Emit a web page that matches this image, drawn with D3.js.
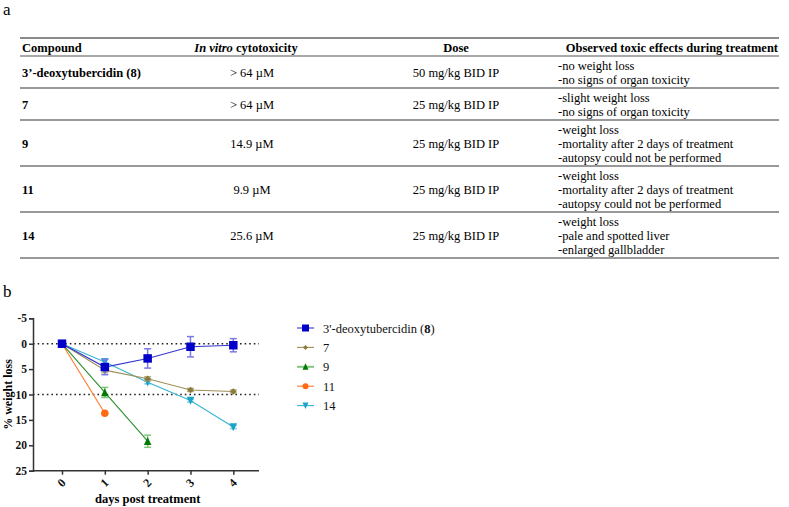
<!DOCTYPE html>
<html>
<head>
<meta charset="utf-8">
<script src="https://cdn.jsdelivr.net/npm/d3@7"></script>
<style>
  html, body { margin: 0; padding: 0; background: #fff; }
  svg { display: block; }
  text { font-family: "Liberation Serif", "Times New Roman", serif; }
</style>
</head>
<body>
<svg id="fig" width="789" height="507"></svg>
<script>
// ---------- Table data ----------
const tableHeaders = ["Compound", "In vitro cytotoxicity", "Dose", "Observed toxic effects during treatment"];
const compounds = ["3\u2019-deoxytubercidin (8)", "7", "9", "11", "14"];
const cytotoxicity = ["> 64 \u00b5M", "> 64 \u00b5M", "14.9 \u00b5M", "9.9 \u00b5M", "25.6 \u00b5M"];
const doses = ["50 mg/kg BID IP", "25 mg/kg BID IP", "25 mg/kg BID IP", "25 mg/kg BID IP", "25 mg/kg BID IP"];
const effects = [
  ["-no weight loss", "-no signs of organ toxicity"],
  ["-slight weight loss", "-no signs of organ toxicity"],
  ["-weight loss", "-mortality after 2 days of treatment", "-autopsy could not be performed"],
  ["-weight loss", "-mortality after 2 days of treatment", "-autopsy could not be performed"],
  ["-weight loss", "-pale and spotted liver", "-enlarged gallbladder"]
];

// ---------- Chart data ----------
const days = [0, 1, 2, 3, 4];
const yTicks = [-5, 0, 5, 10, 15, 20, 25];
const seriesNames = ["3'-deoxytubercidin (8)", "7", "9", "11", "14"];
const s8 = [0, 4.6, 2.9, 0.6, 0.3];
const e8 = [0, 1.5, 1.9, 2.0, 1.3];
const s7 = [0, 5.2, 6.9, 9.1, 9.4];
const e7 = [0, 0.5, 0.4, 0.3, 0.3];
const s9 = [0, 9.6, 19.2];
const e9 = [0, 1.0, 1.2];
const s11 = [0, 13.7];
const e11 = [0, 0];
const s14 = [0, 3.6, 7.6, 11.2, 16.4];
const e14 = [0, 0.6, 0.3, 0.3, 0.3];
const refLines = [0, 10];

const svg = d3.select("#fig");

// ---------- Panel labels ----------
svg.append("text").attr("x", 3).attr("y", 15).attr("font-size", 17).text("a");
svg.append("text").attr("x", 3).attr("y", 297).attr("font-size", 17).text("b");

// ---------- Table ----------
const tLeft = 20, tRight = 779;
const colX = { comp: 22, cyto: 252, dose: 456, eff: 558 };
const lineH = 14;
const headerTop = 38, headerBottom = 56;
const fs = 12.5;

const tg = svg.append("g");
tg.append("line").attr("x1", tLeft).attr("x2", tRight).attr("y1", headerTop).attr("y2", headerTop)
  .attr("stroke", "#8a8a8a").attr("stroke-width", 2);
tg.append("line").attr("x1", tLeft).attr("x2", tRight).attr("y1", headerBottom).attr("y2", headerBottom)
  .attr("stroke", "#555").attr("stroke-width", 1.2);

const hy = (headerTop + headerBottom) / 2 + 4.5;
tg.append("text").attr("x", colX.comp).attr("y", hy).attr("font-size", fs).attr("font-weight", "bold").text(tableHeaders[0]);
const ht = tg.append("text").attr("x", 246).attr("y", hy).attr("font-size", fs).attr("font-weight", "bold").attr("text-anchor", "middle");
ht.append("tspan").attr("font-style", "italic").text("In vitro");
ht.append("tspan").text(" cytotoxicity");
tg.append("text").attr("x", colX.dose).attr("y", hy).attr("font-size", fs).attr("font-weight", "bold").attr("text-anchor", "middle").text(tableHeaders[2]);
tg.append("text").attr("x", tRight - 1).attr("y", hy).attr("font-size", fs).attr("font-weight", "bold").attr("text-anchor", "end").text(tableHeaders[3]);

let yCursor = headerBottom;
compounds.forEach((c, i) => {
  const n = effects[i].length;
  const h = n * lineH + 4;
  const top = yCursor, bottom = yCursor + h;
  const mid = (top + bottom) / 2;
  tg.append("text").attr("x", colX.comp).attr("y", mid + 4.5).attr("font-size", fs).attr("font-weight", "bold").text(c);
  tg.append("text").attr("x", colX.cyto).attr("y", mid + 4.5).attr("font-size", fs).attr("text-anchor", "middle").text(cytotoxicity[i]);
  tg.append("text").attr("x", colX.dose).attr("y", mid + 4.5).attr("font-size", fs).attr("text-anchor", "middle").text(doses[i]);
  effects[i].forEach((e, j) => {
    const ly = mid + (j - (n - 1) / 2) * lineH + 4.5;
    tg.append("text").attr("x", colX.eff).attr("y", ly).attr("font-size", fs).text(e);
  });
  tg.append("line").attr("x1", tLeft).attr("x2", tRight).attr("y1", bottom).attr("y2", bottom)
    .attr("stroke", "#777").attr("stroke-width", 1.3);
  yCursor = bottom;
});

// ---------- Chart ----------
const x = d3.scaleLinear().domain([0, 4]).range([62, 233.3]);
const y = d3.scaleLinear().domain([-5, 25]).range([318.3, 470.7]);
const axisLeftX = 33, axisRightX = 259;

const cg = svg.append("g");

// reference dotted lines
cg.selectAll(".ref").data(refLines).join("line")
  .attr("x1", axisLeftX).attr("x2", axisRightX)
  .attr("y1", d => y(d)).attr("y2", d => y(d))
  .attr("stroke", "#222").attr("stroke-width", 1.6).attr("stroke-dasharray", "1.6,3");

// y axis
const yAxis = d3.axisLeft(y).tickValues(yTicks).tickSize(4).tickPadding(2).tickFormat(d => String(d));
const yg = cg.append("g").attr("transform", `translate(${axisLeftX},0)`).call(yAxis);
yg.select(".domain").attr("stroke", "#333").attr("stroke-width", 1.5);
yg.selectAll(".tick line").attr("stroke", "#333").attr("stroke-width", 1.5);
yg.selectAll(".tick text").attr("font-family", "Liberation Serif, serif").attr("font-size", 11.5).attr("font-weight", "bold").attr("fill", "#111");

// x axis
const xAxis = d3.axisBottom(x).tickValues(days).tickSize(4).tickFormat(d => String(d));
const xg = cg.append("g").attr("transform", `translate(0,${y(25)})`).call(xAxis);
xg.select(".domain").remove();
xg.append("line").attr("x1", axisLeftX).attr("x2", axisRightX).attr("y1", 0).attr("y2", 0)
  .attr("stroke", "#333").attr("stroke-width", 1.5);
xg.selectAll(".tick line").attr("stroke", "#333").attr("stroke-width", 1.5);
xg.selectAll(".tick text")
  .attr("font-family", "Liberation Serif, serif").attr("font-size", 12).attr("font-weight", "bold").attr("fill", "#111")
  .attr("text-anchor", "middle").attr("dy", null).attr("y", 0)
  .attr("transform", "translate(0,13) rotate(-45)")
  .attr("dominant-baseline", "middle");

// axis titles
cg.append("text").attr("x", x(2)).attr("y", 503).attr("text-anchor", "middle")
  .attr("font-size", 12.5).attr("font-weight", "bold").text("days post treatment");
cg.append("text").attr("transform", `translate(11.5,${y(10)}) rotate(-90)`).attr("text-anchor", "middle")
  .attr("font-size", 12).attr("font-weight", "bold").text("% weight loss");

// series
const series = [
  { name: seriesNames[4], vals: s14, errs: e14, color: "#1ba3c6", line: "#36b4d4", err: "#7fd0e3", shape: "triDown", size: 7.5 },
  { name: seriesNames[3], vals: s11, errs: e11, color: "#ff6a13", line: "#ff7a2e", err: "#ffa070", shape: "circle", size: 7.5 },
  { name: seriesNames[2], vals: s9, errs: e9, color: "#007a00", line: "#2c8f2c", err: "#80c880", shape: "triUp", size: 7.5 },
  { name: seriesNames[1], vals: s7, errs: e7, color: "#8a7a3c", line: "#9e8f55", err: "#b8ac80", shape: "diamond", size: 6.5 },
  { name: seriesNames[0], vals: s8, errs: e8, color: "#0000c8", line: "#3434d0", err: "#7a7ae6", shape: "square", size: 8.5 }
];

function markerPath(shape, s) {
  const h = s / 2;
  if (shape === "square") return `M${-h},${-h}H${h}V${h}H${-h}Z`;
  if (shape === "diamond") return `M0,${-h}L${h},0L0,${h}L${-h},0Z`;
  if (shape === "triUp") return `M0,${-h - 0.5}L${h},${h}L${-h},${h}Z`;
  if (shape === "triDown") return `M0,${h + 0.5}L${h},${-h}L${-h},${-h}Z`;
  return d3.symbol(d3.symbolCircle, Math.PI * h * h)();
}

const lineGen = d3.line().x((d, i) => x(days[i])).y(d => y(d));

series.forEach(s => {
  const g = cg.append("g");
  s.vals.forEach((v, i) => {
    const e = s.errs[i];
    if (!e) return;
    const xi = x(days[i]);
    g.append("line").attr("x1", xi).attr("x2", xi).attr("y1", y(v - e)).attr("y2", y(v + e))
      .attr("stroke", s.err).attr("stroke-width", 1.5);
    [v - e, v + e].forEach(b => {
      g.append("line").attr("x1", xi - 3.5).attr("x2", xi + 3.5).attr("y1", y(b)).attr("y2", y(b))
        .attr("stroke", s.err).attr("stroke-width", 1.5);
    });
  });
  g.append("path").attr("d", lineGen(s.vals)).attr("fill", "none").attr("stroke", s.line).attr("stroke-width", 1.1);
  g.selectAll("path.m").data(s.vals).join("path").attr("class", "m")
    .attr("transform", (d, i) => `translate(${x(days[i])},${y(d)})`)
    .attr("d", markerPath(s.shape, s.size))
    .attr("fill", s.color);
});

// legend
const legendOrder = [series[4], series[3], series[2], series[1], series[0]];
const lg = svg.append("g").attr("transform", "translate(297,328)");
legendOrder.forEach((s, i) => {
  const g = lg.append("g").attr("transform", `translate(0,${i * 19.4})`);
  g.append("line").attr("x1", 0).attr("x2", 17).attr("y1", 0).attr("y2", 0)
    .attr("stroke", s.shape === "triUp" ? s.err : s.line).attr("stroke-width", s.shape === "triUp" ? 2 : 1.1);
  g.append("path").attr("transform", "translate(8.5,0)").attr("d", markerPath(s.shape, s.size - 1.5)).attr("fill", s.color);
  const t = g.append("text").attr("x", 26).attr("y", 4.5).attr("font-size", 12.5).attr("fill", "#111");
  if (i === 0) {
    t.append("tspan").text("3'-deoxytubercidin (");
    t.append("tspan").attr("font-weight", "bold").text("8");
    t.append("tspan").text(")");
  } else {
    t.text(s.name);
  }
});
</script>
</body>
</html>
